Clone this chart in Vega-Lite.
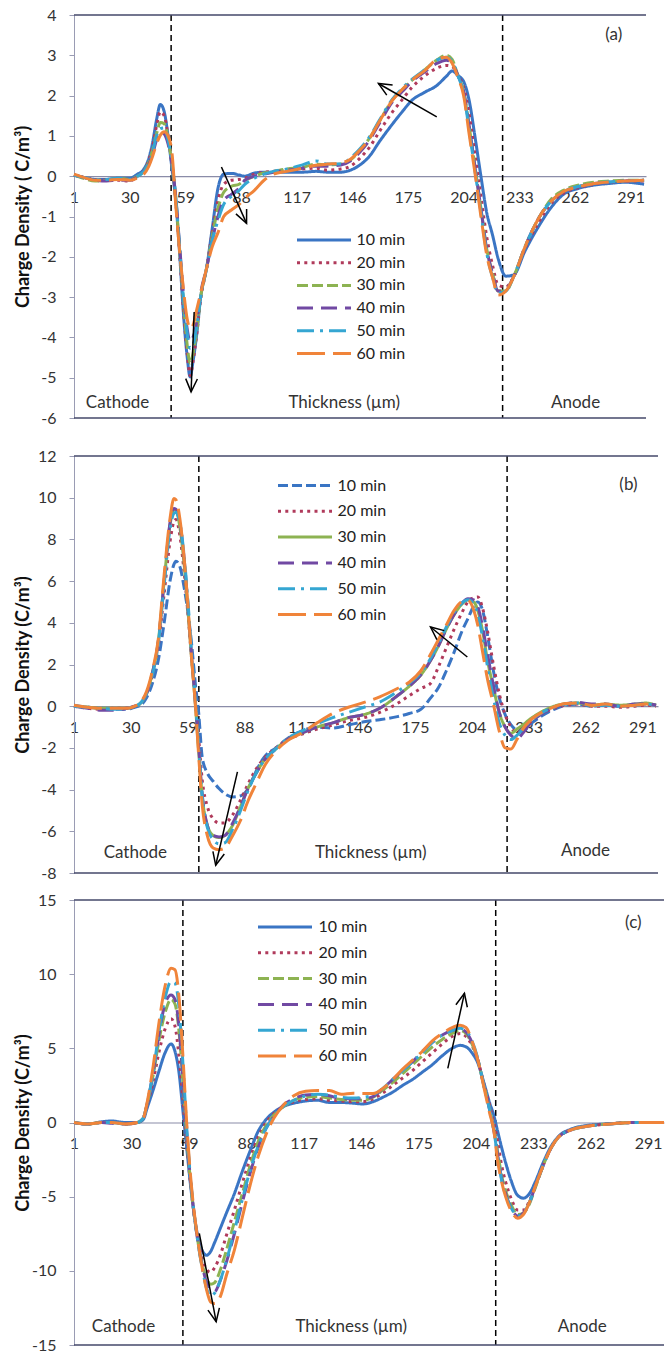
{
"$schema": "https://vega.github.io/schema/vega-lite/v6.json",
"padding": {"left": 14, "top": 7, "right": 2, "bottom": 2},
"config": {"font": "Lato", "view": {"stroke": null}, "axis": {"labelFont": "Lato", "labelFontSize": 16, "labelColor": "#333", "titleFont": "Lato", "grid": false}, "legend": {"labelFont": "Lato"}, "text": {"font": "Lato"}},
"datasets": {
"a": [
{"x":1,"10 min":0.03,"20 min":0.03,"30 min":0.03,"40 min":0.03,"50 min":0.03,"60 min":0.05},
{"x":6,"10 min":-0.03,"20 min":-0.03,"30 min":-0.05,"40 min":-0.03,"50 min":-0.03,"60 min":-0.03},
{"x":12,"10 min":-0.08,"20 min":-0.08,"30 min":-0.12,"40 min":-0.1,"50 min":-0.08,"60 min":-0.1},
{"x":18,"10 min":-0.08,"20 min":-0.1,"30 min":-0.1,"40 min":-0.12,"50 min":-0.08,"60 min":-0.1},
{"x":24,"10 min":-0.05,"20 min":-0.1,"30 min":-0.05,"40 min":-0.1,"50 min":-0.05,"60 min":-0.08},
{"x":30,"10 min":-0.05,"20 min":-0.12,"30 min":-0.08,"40 min":-0.1,"50 min":-0.08,"60 min":-0.1},
{"x":34,"10 min":0.05,"20 min":0.0,"30 min":0.0,"40 min":-0.02,"50 min":0.0,"60 min":-0.05},
{"x":37,"10 min":0.15,"20 min":0.1,"30 min":0.1,"40 min":0.08,"50 min":0.1,"60 min":0.03},
{"x":40,"10 min":0.45,"20 min":0.4,"30 min":0.35,"40 min":0.3,"50 min":0.32,"60 min":0.25},
{"x":42,"10 min":0.85,"20 min":0.75,"30 min":0.65,"40 min":0.55,"50 min":0.6,"60 min":0.5},
{"x":44,"10 min":1.4,"20 min":1.25,"30 min":1.05,"40 min":0.9,"50 min":1.0,"60 min":0.8},
{"x":46,"10 min":1.78,"20 min":1.6,"30 min":1.33,"40 min":1.1,"50 min":1.18,"60 min":1.02},
{"x":48,"10 min":1.6,"20 min":1.5,"30 min":1.3,"40 min":1.05,"50 min":1.2,"60 min":1.1},
{"x":50,"10 min":1.0,"20 min":1.0,"30 min":0.95,"40 min":0.8,"50 min":0.9,"60 min":1.0},
{"x":52,"10 min":0.2,"20 min":0.3,"30 min":0.3,"40 min":0.3,"50 min":0.35,"60 min":0.6},
{"x":54,"10 min":-0.6,"20 min":-0.6,"30 min":-0.55,"40 min":-0.5,"50 min":-0.5,"60 min":-0.7},
{"x":56,"10 min":-1.9,"20 min":-1.9,"30 min":-1.8,"40 min":-1.7,"50 min":-1.75,"60 min":-1.85},
{"x":58,"10 min":-3.4,"20 min":-3.3,"30 min":-3.1,"40 min":-2.9,"50 min":-3.0,"60 min":-2.8},
{"x":60,"10 min":-4.5,"20 min":-4.4,"30 min":-4.2,"40 min":-3.8,"50 min":-3.9,"60 min":-3.55},
{"x":61.5,"10 min":-4.98,"20 min":-4.95,"30 min":-4.65,"40 min":-4.1,"50 min":-4.27,"60 min":-3.78},
{"x":63,"10 min":-4.6,"20 min":-4.6,"30 min":-4.4,"40 min":-4.0,"50 min":-4.2,"60 min":-3.7},
{"x":65,"10 min":-3.9,"20 min":-3.9,"30 min":-3.8,"40 min":-3.6,"50 min":-3.7,"60 min":-3.3},
{"x":67,"10 min":-3.0,"20 min":-3.05,"30 min":-3.0,"40 min":-2.9,"50 min":-3.0,"60 min":-2.9},
{"x":70,"10 min":-2.3,"20 min":-2.3,"30 min":-2.3,"40 min":-2.3,"50 min":-2.3,"60 min":-2.3},
{"x":73,"10 min":-1.3,"20 min":-1.4,"30 min":-1.5,"40 min":-1.6,"50 min":-1.6,"60 min":-1.75},
{"x":76,"10 min":-0.3,"20 min":-0.6,"30 min":-0.8,"40 min":-1.0,"50 min":-1.1,"60 min":-1.4},
{"x":79,"10 min":0.05,"20 min":-0.2,"30 min":-0.4,"40 min":-0.6,"50 min":-0.7,"60 min":-1.0},
{"x":83,"10 min":0.07,"20 min":-0.1,"30 min":-0.25,"40 min":-0.45,"50 min":-0.5,"60 min":-0.84},
{"x":87,"10 min":0.03,"20 min":-0.08,"30 min":-0.2,"40 min":-0.3,"50 min":-0.35,"60 min":-0.7},
{"x":90,"10 min":0.0,"20 min":-0.05,"30 min":-0.1,"40 min":-0.1,"50 min":-0.2,"60 min":-0.55},
{"x":95,"10 min":0.08,"20 min":0.05,"30 min":0.0,"40 min":0.0,"50 min":-0.05,"60 min":-0.35},
{"x":100,"10 min":0.1,"20 min":0.1,"30 min":0.08,"40 min":0.05,"50 min":0.05,"60 min":-0.1},
{"x":105,"10 min":0.1,"20 min":0.12,"30 min":0.12,"40 min":0.1,"50 min":0.12,"60 min":0.05},
{"x":112,"10 min":0.1,"20 min":0.15,"30 min":0.18,"40 min":0.15,"50 min":0.18,"60 min":0.12},
{"x":120,"10 min":0.1,"20 min":0.18,"30 min":0.22,"40 min":0.2,"50 min":0.28,"60 min":0.2},
{"x":127,"10 min":0.12,"20 min":0.2,"30 min":0.3,"40 min":0.25,"50 min":0.38,"60 min":0.27},
{"x":133,"10 min":0.1,"20 min":0.15,"30 min":0.28,"40 min":0.25,"50 min":0.3,"60 min":0.3},
{"x":140,"10 min":0.1,"20 min":0.18,"30 min":0.3,"40 min":0.28,"50 min":0.3,"60 min":0.33},
{"x":145,"10 min":0.15,"20 min":0.25,"30 min":0.4,"40 min":0.38,"50 min":0.45,"60 min":0.42},
{"x":150,"10 min":0.28,"20 min":0.45,"30 min":0.65,"40 min":0.6,"50 min":0.68,"60 min":0.65},
{"x":155,"10 min":0.5,"20 min":0.72,"30 min":0.95,"40 min":0.9,"50 min":0.98,"60 min":0.94},
{"x":160,"10 min":0.85,"20 min":1.1,"30 min":1.35,"40 min":1.3,"50 min":1.38,"60 min":1.35},
{"x":167,"10 min":1.3,"20 min":1.6,"30 min":1.9,"40 min":1.85,"50 min":1.92,"60 min":1.89},
{"x":172,"10 min":1.6,"20 min":1.9,"30 min":2.15,"40 min":2.1,"50 min":2.18,"60 min":2.15},
{"x":177,"10 min":1.88,"20 min":2.2,"30 min":2.38,"40 min":2.35,"50 min":2.4,"60 min":2.38},
{"x":184,"10 min":2.09,"20 min":2.5,"30 min":2.65,"40 min":2.6,"50 min":2.65,"60 min":2.63},
{"x":190,"10 min":2.25,"20 min":2.68,"30 min":2.88,"40 min":2.8,"50 min":2.88,"60 min":2.9},
{"x":195,"10 min":2.48,"20 min":2.75,"30 min":3.0,"40 min":2.88,"50 min":2.95,"60 min":2.95},
{"x":198,"10 min":2.61,"20 min":2.72,"30 min":2.9,"40 min":2.8,"50 min":2.85,"60 min":2.8},
{"x":201,"10 min":2.5,"20 min":2.5,"30 min":2.5,"40 min":2.5,"50 min":2.5,"60 min":2.45},
{"x":204,"10 min":2.35,"20 min":2.2,"30 min":2.1,"40 min":2.1,"50 min":2.05,"60 min":2.0},
{"x":207,"10 min":1.85,"20 min":1.5,"30 min":1.2,"40 min":1.2,"50 min":1.1,"60 min":1.0},
{"x":210,"10 min":0.95,"20 min":0.5,"30 min":0.2,"40 min":0.2,"50 min":0.1,"60 min":0.05},
{"x":213,"10 min":0.0,"20 min":-0.5,"30 min":-0.8,"40 min":-0.8,"50 min":-0.9,"60 min":-1.0},
{"x":216,"10 min":-0.9,"20 min":-1.5,"30 min":-1.8,"40 min":-1.8,"50 min":-1.9,"60 min":-1.95},
{"x":219,"10 min":-1.45,"20 min":-2.2,"30 min":-2.4,"40 min":-2.4,"50 min":-2.5,"60 min":-2.5},
{"x":222,"10 min":-2.05,"20 min":-2.7,"30 min":-2.85,"40 min":-2.85,"50 min":-2.9,"60 min":-2.95},
{"x":226,"10 min":-2.48,"20 min":-2.75,"30 min":-2.85,"40 min":-2.8,"50 min":-2.85,"60 min":-2.85},
{"x":230,"10 min":-2.45,"20 min":-2.5,"30 min":-2.5,"40 min":-2.5,"50 min":-2.5,"60 min":-2.5},
{"x":236,"10 min":-1.85,"20 min":-1.8,"30 min":-1.75,"40 min":-1.75,"50 min":-1.75,"60 min":-1.75},
{"x":243,"10 min":-1.25,"20 min":-1.15,"30 min":-1.05,"40 min":-1.05,"50 min":-1.05,"60 min":-1.05},
{"x":250,"10 min":-0.75,"20 min":-0.65,"30 min":-0.55,"40 min":-0.6,"50 min":-0.6,"60 min":-0.6},
{"x":256,"10 min":-0.45,"20 min":-0.42,"30 min":-0.35,"40 min":-0.4,"50 min":-0.38,"60 min":-0.38},
{"x":264,"10 min":-0.3,"20 min":-0.28,"30 min":-0.22,"40 min":-0.26,"50 min":-0.25,"60 min":-0.26},
{"x":272,"10 min":-0.22,"20 min":-0.2,"30 min":-0.15,"40 min":-0.18,"50 min":-0.18,"60 min":-0.18},
{"x":280,"10 min":-0.18,"20 min":-0.15,"30 min":-0.12,"40 min":-0.15,"50 min":-0.14,"60 min":-0.14},
{"x":288,"10 min":-0.15,"20 min":-0.12,"30 min":-0.1,"40 min":-0.12,"50 min":-0.12,"60 min":-0.12},
{"x":298,"10 min":-0.2,"20 min":-0.12,"30 min":-0.1,"40 min":-0.1,"50 min":-0.1,"60 min":-0.1}
],
"b": [
{"x":1,"10 min":0.05,"20 min":0.0,"30 min":0.0,"40 min":0.0,"50 min":0.0,"60 min":0.05},
{"x":8,"10 min":-0.05,"20 min":-0.1,"30 min":-0.05,"40 min":-0.1,"50 min":-0.05,"60 min":-0.05},
{"x":15,"10 min":-0.1,"20 min":-0.15,"30 min":-0.1,"40 min":-0.2,"50 min":-0.1,"60 min":-0.1},
{"x":22,"10 min":-0.15,"20 min":-0.1,"30 min":-0.1,"40 min":-0.2,"50 min":-0.15,"60 min":-0.1},
{"x":28,"10 min":-0.15,"20 min":-0.1,"30 min":-0.1,"40 min":-0.1,"50 min":-0.1,"60 min":-0.1},
{"x":32,"10 min":-0.05,"20 min":0.0,"30 min":0.0,"40 min":0.0,"50 min":0.0,"60 min":0.0},
{"x":35,"10 min":0.05,"20 min":0.15,"30 min":0.15,"40 min":0.15,"50 min":0.15,"60 min":0.2},
{"x":38,"10 min":0.4,"20 min":0.6,"30 min":0.6,"40 min":0.6,"50 min":0.6,"60 min":0.7},
{"x":41,"10 min":1.1,"20 min":1.5,"30 min":1.6,"40 min":1.6,"50 min":1.5,"60 min":1.7},
{"x":44,"10 min":2.2,"20 min":2.9,"30 min":3.1,"40 min":3.1,"50 min":3.0,"60 min":3.2},
{"x":47,"10 min":4.0,"20 min":5.4,"30 min":6.0,"40 min":6.0,"50 min":5.8,"60 min":6.3},
{"x":50,"10 min":6.0,"20 min":7.9,"30 min":8.7,"40 min":8.8,"50 min":8.5,"60 min":9.0},
{"x":52,"10 min":6.8,"20 min":8.85,"30 min":9.45,"40 min":9.48,"50 min":9.25,"60 min":9.96},
{"x":53,"10 min":6.95,"20 min":8.95,"30 min":9.4,"40 min":9.45,"50 min":9.3,"60 min":9.9},
{"x":55,"10 min":6.7,"20 min":8.2,"30 min":8.6,"40 min":8.8,"50 min":8.8,"60 min":9.0},
{"x":57,"10 min":5.8,"20 min":6.6,"30 min":7.0,"40 min":7.3,"50 min":7.4,"60 min":7.3},
{"x":59,"10 min":4.6,"20 min":4.6,"30 min":4.8,"40 min":5.0,"50 min":5.2,"60 min":5.0},
{"x":61,"10 min":3.0,"20 min":2.3,"30 min":2.3,"40 min":2.4,"50 min":2.6,"60 min":2.3},
{"x":63,"10 min":1.0,"20 min":0.3,"30 min":0.0,"40 min":0.1,"50 min":0.2,"60 min":0.0},
{"x":64.5,"10 min":-0.2,"20 min":-1.4,"30 min":-2.0,"40 min":-1.8,"50 min":-1.8,"60 min":-2.2},
{"x":66.5,"10 min":-2.5,"20 min":-3.6,"30 min":-4.4,"40 min":-4.3,"50 min":-4.4,"60 min":-4.8},
{"x":69,"10 min":-3.2,"20 min":-4.8,"30 min":-5.7,"40 min":-5.7,"50 min":-5.8,"60 min":-6.2},
{"x":72,"10 min":-3.6,"20 min":-5.4,"30 min":-6.2,"40 min":-6.2,"50 min":-6.4,"60 min":-6.8},
{"x":75,"10 min":-3.95,"20 min":-5.6,"30 min":-6.3,"40 min":-6.27,"50 min":-6.6,"60 min":-6.88},
{"x":78,"10 min":-4.2,"20 min":-5.6,"30 min":-6.2,"40 min":-6.2,"50 min":-6.55,"60 min":-6.8},
{"x":82,"10 min":-4.35,"20 min":-5.2,"30 min":-5.7,"40 min":-5.6,"50 min":-5.9,"60 min":-6.2},
{"x":86,"10 min":-4.3,"20 min":-4.5,"30 min":-4.8,"40 min":-4.8,"50 min":-5.0,"60 min":-5.47},
{"x":90,"10 min":-3.95,"20 min":-3.7,"30 min":-3.9,"40 min":-3.9,"50 min":-4.0,"60 min":-4.5},
{"x":94,"10 min":-3.1,"20 min":-3.0,"30 min":-3.2,"40 min":-3.2,"50 min":-3.2,"60 min":-3.7},
{"x":98,"10 min":-2.45,"20 min":-2.5,"30 min":-2.6,"40 min":-2.6,"50 min":-2.6,"60 min":-2.9},
{"x":104,"10 min":-2.0,"20 min":-2.0,"30 min":-2.05,"40 min":-2.05,"50 min":-2.05,"60 min":-2.15},
{"x":110,"10 min":-1.55,"20 min":-1.6,"30 min":-1.6,"40 min":-1.6,"50 min":-1.55,"60 min":-1.65},
{"x":117,"10 min":-1.2,"20 min":-1.35,"30 min":-1.3,"40 min":-1.3,"50 min":-1.2,"60 min":-1.3},
{"x":125,"10 min":-1.0,"20 min":-1.1,"30 min":-1.0,"40 min":-1.0,"50 min":-0.85,"60 min":-0.8},
{"x":133,"10 min":-1.05,"20 min":-0.9,"30 min":-0.8,"40 min":-0.8,"50 min":-0.55,"60 min":-0.35},
{"x":141,"10 min":-0.9,"20 min":-0.7,"30 min":-0.55,"40 min":-0.55,"50 min":-0.3,"60 min":-0.05},
{"x":149,"10 min":-0.75,"20 min":-0.55,"30 min":-0.4,"40 min":-0.4,"50 min":-0.05,"60 min":0.18},
{"x":157,"10 min":-0.65,"20 min":-0.3,"30 min":-0.1,"40 min":-0.1,"50 min":0.2,"60 min":0.45},
{"x":166,"10 min":-0.5,"20 min":0.13,"30 min":0.5,"40 min":0.5,"50 min":0.7,"60 min":0.85},
{"x":172,"10 min":-0.35,"20 min":0.5,"30 min":0.95,"40 min":0.95,"50 min":1.1,"60 min":1.15},
{"x":178,"10 min":-0.15,"20 min":0.85,"30 min":1.5,"40 min":1.5,"50 min":1.6,"60 min":1.7},
{"x":183,"10 min":0.4,"20 min":1.1,"30 min":2.2,"40 min":2.2,"50 min":2.3,"60 min":2.5},
{"x":187,"10 min":0.9,"20 min":1.9,"30 min":2.9,"40 min":2.9,"50 min":3.0,"60 min":3.2},
{"x":191,"10 min":1.7,"20 min":2.8,"30 min":3.7,"40 min":3.7,"50 min":3.8,"60 min":3.9},
{"x":195,"10 min":2.6,"20 min":3.7,"30 min":4.4,"40 min":4.4,"50 min":4.5,"60 min":4.6},
{"x":199,"10 min":3.6,"20 min":4.5,"30 min":4.9,"40 min":4.95,"50 min":4.95,"60 min":5.02},
{"x":202,"10 min":4.2,"20 min":5.0,"30 min":5.1,"40 min":5.15,"50 min":5.1,"60 min":5.08},
{"x":205,"10 min":4.8,"20 min":5.2,"30 min":5.0,"40 min":5.1,"50 min":4.9,"60 min":4.6},
{"x":207,"10 min":5.0,"20 min":5.24,"30 min":4.6,"40 min":4.8,"50 min":4.4,"60 min":3.9},
{"x":209.5,"10 min":4.6,"20 min":4.7,"30 min":3.6,"40 min":3.8,"50 min":3.3,"60 min":2.6},
{"x":212,"10 min":3.4,"20 min":3.6,"30 min":2.2,"40 min":2.5,"50 min":1.9,"60 min":1.3},
{"x":215,"10 min":1.7,"20 min":2.0,"30 min":0.9,"40 min":1.0,"50 min":0.4,"60 min":0.1},
{"x":218,"10 min":0.4,"20 min":0.6,"30 min":-0.3,"40 min":-0.3,"50 min":-0.8,"60 min":-1.2},
{"x":221,"10 min":-0.4,"20 min":-0.4,"30 min":-1.0,"40 min":-1.0,"50 min":-1.4,"60 min":-2.0},
{"x":224,"10 min":-0.9,"20 min":-1.0,"30 min":-1.3,"40 min":-1.4,"50 min":-1.6,"60 min":-2.05},
{"x":227,"10 min":-1.15,"20 min":-1.3,"30 min":-1.1,"40 min":-1.55,"50 min":-1.4,"60 min":-1.6},
{"x":230,"10 min":-1.2,"20 min":-1.1,"30 min":-0.9,"40 min":-1.3,"50 min":-1.1,"60 min":-1.1},
{"x":234,"10 min":-0.85,"20 min":-0.75,"30 min":-0.6,"40 min":-0.8,"50 min":-0.7,"60 min":-0.67},
{"x":240,"10 min":-0.45,"20 min":-0.35,"30 min":-0.25,"40 min":-0.35,"50 min":-0.3,"60 min":-0.28},
{"x":246,"10 min":-0.15,"20 min":-0.1,"30 min":0.0,"40 min":-0.05,"50 min":-0.05,"60 min":-0.03},
{"x":252,"10 min":0.05,"20 min":0.05,"30 min":0.12,"40 min":0.12,"50 min":0.1,"60 min":0.13},
{"x":258,"10 min":0.1,"20 min":0.1,"30 min":0.15,"40 min":0.18,"50 min":0.15,"60 min":0.15},
{"x":265,"10 min":0.0,"20 min":0.0,"30 min":0.05,"40 min":0.1,"50 min":0.05,"60 min":0.05},
{"x":272,"10 min":0.05,"20 min":0.0,"30 min":0.1,"40 min":0.1,"50 min":0.05,"60 min":0.1},
{"x":280,"10 min":0.0,"20 min":-0.05,"30 min":0.05,"40 min":0.0,"50 min":0.0,"60 min":0.0},
{"x":287,"10 min":0.05,"20 min":0.0,"30 min":0.1,"40 min":0.1,"50 min":0.05,"60 min":0.05},
{"x":293,"10 min":0.1,"20 min":0.05,"30 min":0.15,"40 min":0.12,"50 min":0.1,"60 min":0.1},
{"x":298,"10 min":0.05,"20 min":0.0,"30 min":0.05,"40 min":0.05,"50 min":0.05,"60 min":0.05}
],
"c": [
{"x":1,"10 min":0,"20 min":0,"30 min":0,"40 min":0,"50 min":0,"60 min":0},
{"x":8,"10 min":-0.1,"20 min":-0.1,"30 min":-0.1,"40 min":-0.1,"50 min":-0.1,"60 min":-0.1},
{"x":15,"10 min":0.05,"20 min":0,"30 min":0,"40 min":0,"50 min":0,"60 min":0},
{"x":20,"10 min":0.1,"20 min":0,"30 min":0,"40 min":-0.05,"50 min":0,"60 min":0},
{"x":27,"10 min":0,"20 min":-0.1,"30 min":-0.1,"40 min":-0.1,"50 min":-0.1,"60 min":-0.1},
{"x":33,"10 min":0,"20 min":0,"30 min":0,"40 min":0,"50 min":0,"60 min":0},
{"x":36,"10 min":0.2,"20 min":0.3,"30 min":0.3,"40 min":0.3,"50 min":0.3,"60 min":0.3},
{"x":38,"10 min":1.0,"20 min":1.2,"30 min":1.3,"40 min":1.3,"50 min":1.3,"60 min":1.4},
{"x":41,"10 min":2.2,"20 min":2.8,"30 min":3.2,"40 min":3.4,"50 min":3.4,"60 min":3.8},
{"x":44,"10 min":3.5,"20 min":4.8,"30 min":5.6,"40 min":6.0,"50 min":6.2,"60 min":6.8},
{"x":47,"10 min":4.7,"20 min":6.3,"30 min":7.4,"40 min":8.0,"50 min":8.4,"60 min":9.2},
{"x":50,"10 min":5.3,"20 min":7.0,"30 min":8.3,"40 min":8.6,"50 min":9.5,"60 min":10.4},
{"x":52,"10 min":4.8,"20 min":6.5,"30 min":8.0,"40 min":8.3,"50 min":9.4,"60 min":10.3},
{"x":54,"10 min":3.4,"20 min":4.5,"30 min":6.2,"40 min":6.5,"50 min":7.8,"60 min":8.5},
{"x":56,"10 min":0.8,"20 min":1.5,"30 min":2.8,"40 min":3.0,"50 min":4.0,"60 min":4.5},
{"x":58,"10 min":-1.8,"20 min":-1.5,"30 min":-1.0,"40 min":-0.8,"50 min":-0.5,"60 min":-0.2},
{"x":60,"10 min":-4.4,"20 min":-4.3,"30 min":-4.2,"40 min":-4.1,"50 min":-4.0,"60 min":-3.8},
{"x":63,"10 min":-7.3,"20 min":-7.4,"30 min":-7.5,"40 min":-7.5,"50 min":-7.5,"60 min":-7.4},
{"x":66,"10 min":-8.7,"20 min":-9.3,"30 min":-9.7,"40 min":-9.8,"50 min":-10.0,"60 min":-10.0},
{"x":68,"10 min":-8.95,"20 min":-9.9,"30 min":-10.5,"40 min":-10.8,"50 min":-11.2,"60 min":-11.3},
{"x":70,"10 min":-8.7,"20 min":-10.1,"30 min":-10.9,"40 min":-11.3,"50 min":-11.7,"60 min":-12.1},
{"x":72,"10 min":-8.1,"20 min":-9.8,"30 min":-10.8,"40 min":-11.4,"50 min":-11.5,"60 min":-12.2},
{"x":75,"10 min":-7.1,"20 min":-8.9,"30 min":-9.9,"40 min":-10.6,"50 min":-10.6,"60 min":-11.7},
{"x":78,"10 min":-6.1,"20 min":-7.6,"30 min":-8.6,"40 min":-9.4,"50 min":-9.3,"60 min":-10.3},
{"x":82,"10 min":-4.8,"20 min":-5.9,"30 min":-6.7,"40 min":-7.5,"50 min":-7.3,"60 min":-8.6},
{"x":86,"10 min":-3.3,"20 min":-4.1,"30 min":-4.8,"40 min":-5.4,"50 min":-5.2,"60 min":-6.4},
{"x":90,"10 min":-1.9,"20 min":-2.4,"30 min":-2.9,"40 min":-3.4,"50 min":-3.2,"60 min":-4.2},
{"x":94,"10 min":-0.6,"20 min":-1.0,"30 min":-1.3,"40 min":-1.7,"50 min":-1.6,"60 min":-2.3},
{"x":98,"10 min":0.2,"20 min":0.0,"30 min":-0.2,"40 min":-0.4,"50 min":-0.4,"60 min":-0.8},
{"x":102,"10 min":0.7,"20 min":0.6,"30 min":0.5,"40 min":0.4,"50 min":0.4,"60 min":0.3},
{"x":107,"10 min":1.1,"20 min":1.1,"30 min":1.1,"40 min":1.2,"50 min":1.1,"60 min":1.2},
{"x":112,"10 min":1.3,"20 min":1.4,"30 min":1.5,"40 min":1.6,"50 min":1.5,"60 min":1.8},
{"x":118,"10 min":1.45,"20 min":1.55,"30 min":1.7,"40 min":1.85,"50 min":1.8,"60 min":2.1},
{"x":124,"10 min":1.5,"20 min":1.6,"30 min":1.75,"40 min":1.9,"50 min":1.9,"60 min":2.15},
{"x":130,"10 min":1.35,"20 min":1.5,"30 min":1.65,"40 min":1.8,"50 min":1.85,"60 min":2.15},
{"x":136,"10 min":1.35,"20 min":1.45,"30 min":1.55,"40 min":1.6,"50 min":1.7,"60 min":1.9},
{"x":142,"10 min":1.3,"20 min":1.4,"30 min":1.5,"40 min":1.6,"50 min":1.65,"60 min":1.97},
{"x":147,"10 min":1.25,"20 min":1.4,"30 min":1.5,"40 min":1.6,"50 min":1.7,"60 min":1.95},
{"x":152,"10 min":1.4,"20 min":1.6,"30 min":1.7,"40 min":1.75,"50 min":1.85,"60 min":1.95},
{"x":157,"10 min":1.7,"20 min":2.0,"30 min":2.2,"40 min":2.3,"50 min":2.3,"60 min":2.3},
{"x":162,"10 min":2.05,"20 min":2.5,"30 min":2.7,"40 min":2.9,"50 min":2.9,"60 min":2.9},
{"x":167,"10 min":2.5,"20 min":3.0,"30 min":3.3,"40 min":3.5,"50 min":3.5,"60 min":3.6},
{"x":172,"10 min":2.9,"20 min":3.5,"30 min":3.9,"40 min":4.1,"50 min":4.1,"60 min":4.2},
{"x":177,"10 min":3.4,"20 min":4.1,"30 min":4.5,"40 min":4.8,"50 min":4.7,"60 min":4.8},
{"x":182,"10 min":3.9,"20 min":4.7,"30 min":5.1,"40 min":5.4,"50 min":5.4,"60 min":5.5},
{"x":187,"10 min":4.5,"20 min":5.3,"30 min":5.6,"40 min":5.9,"50 min":5.9,"60 min":6.0},
{"x":192,"10 min":5.0,"20 min":5.8,"30 min":6.0,"40 min":6.2,"50 min":6.2,"60 min":6.4},
{"x":196,"10 min":5.2,"20 min":6.0,"30 min":6.2,"40 min":6.3,"50 min":6.35,"60 min":6.55},
{"x":199,"10 min":5.1,"20 min":5.8,"30 min":6.0,"40 min":6.1,"50 min":6.2,"60 min":6.4},
{"x":202,"10 min":4.7,"20 min":5.2,"30 min":5.3,"40 min":5.4,"50 min":5.5,"60 min":5.5},
{"x":205,"10 min":4.0,"20 min":4.2,"30 min":4.2,"40 min":4.2,"50 min":4.3,"60 min":4.2},
{"x":208,"10 min":2.7,"20 min":2.6,"30 min":2.5,"40 min":2.5,"50 min":2.5,"60 min":2.4},
{"x":211,"10 min":1.3,"20 min":1.1,"30 min":0.9,"40 min":0.8,"50 min":0.8,"60 min":0.6},
{"x":213,"10 min":0.5,"20 min":0.0,"30 min":-0.4,"40 min":-0.5,"50 min":-0.5,"60 min":-0.5},
{"x":215,"10 min":-0.6,"20 min":-1.3,"30 min":-2.0,"40 min":-2.2,"50 min":-2.3,"60 min":-2.6},
{"x":217,"10 min":-1.7,"20 min":-2.9,"30 min":-3.6,"40 min":-3.8,"50 min":-3.9,"60 min":-4.0},
{"x":219,"10 min":-2.7,"20 min":-4.0,"30 min":-4.6,"40 min":-4.8,"50 min":-4.9,"60 min":-5.0},
{"x":222,"10 min":-4.0,"20 min":-5.2,"30 min":-5.6,"40 min":-5.8,"50 min":-5.8,"60 min":-6.0},
{"x":225,"10 min":-4.9,"20 min":-5.9,"30 min":-6.2,"40 min":-6.3,"50 min":-6.3,"60 min":-6.45},
{"x":228,"10 min":-5.1,"20 min":-5.9,"30 min":-6.1,"40 min":-6.1,"50 min":-6.1,"60 min":-6.2},
{"x":231,"10 min":-4.8,"20 min":-5.3,"30 min":-5.5,"40 min":-5.4,"50 min":-5.4,"60 min":-5.4},
{"x":234,"10 min":-4.0,"20 min":-4.3,"30 min":-4.4,"40 min":-4.3,"50 min":-4.3,"60 min":-4.3},
{"x":238,"10 min":-2.7,"20 min":-2.9,"30 min":-2.9,"40 min":-2.9,"50 min":-2.9,"60 min":-2.9},
{"x":242,"10 min":-1.6,"20 min":-1.7,"30 min":-1.7,"40 min":-1.7,"50 min":-1.7,"60 min":-1.7},
{"x":246,"10 min":-0.9,"20 min":-0.95,"30 min":-0.95,"40 min":-0.95,"50 min":-0.95,"60 min":-0.95},
{"x":252,"10 min":-0.45,"20 min":-0.5,"30 min":-0.5,"40 min":-0.5,"50 min":-0.5,"60 min":-0.5},
{"x":260,"10 min":-0.2,"20 min":-0.25,"30 min":-0.25,"40 min":-0.25,"50 min":-0.25,"60 min":-0.25},
{"x":270,"10 min":-0.1,"20 min":-0.12,"30 min":-0.1,"40 min":-0.1,"50 min":-0.12,"60 min":-0.12},
{"x":285,"10 min":0,"20 min":0,"30 min":0,"40 min":0,"50 min":0,"60 min":0},
{"x":299,"10 min":0,"20 min":0,"30 min":0,"40 min":0,"50 min":0,"60 min":0}
]
},
"spacing": 38,
"bounds": "flush",
"resolve": {"scale": {"x": "independent", "y": "independent", "color": "independent", "strokeDash": "independent"}, "axis": {"x": "independent", "y": "independent"}, "legend": {"color": "independent", "strokeDash": "independent"}},
"vconcat": [
{
"width": 572, "height": 403,
"layer": [
{"data": {"values": [{}]}, "mark": {"type": "rule", "color": "black", "strokeWidth": 1.5, "strokeDash": [6, 4]}, "encoding": {"x": {"datum": 51.6}}},
{"data": {"values": [{}]}, "mark": {"type": "rule", "color": "black", "strokeWidth": 1.5, "strokeDash": [6, 4]}, "encoding": {"x": {"datum": 224.3}}},
{"data": {"name": "a"},
 "transform": [{"fold": ["10 min", "20 min", "30 min", "40 min", "50 min", "60 min"], "as": ["series", "val"]}],
 "mark": {"type": "line", "strokeWidth": 3, "interpolate": "monotone"},
 "encoding": {
  "x": {"field": "x", "type": "quantitative", "scale": {"domain": [1, 299], "nice": false, "zero": false}, "axis": {"values": [1, 30, 59, 88, 117, 146, 175, 204, 233, 262, 291], "title": null, "ticks": false, "labelPadding": 13, "labelFlush": false, "labelOverlap": false, "domainColor": "#8a8ca8", "domainWidth": 1.2, "offset": -241.8}},
  "y": {"field": "val", "type": "quantitative", "scale": {"domain": [-6, 4], "nice": false, "zero": false}, "axis": {"values": [-6, -5, -4, -3, -2, -1, 0, 1, 2, 3, 4], "labelExpr": "datum.value + ''", "title": "Charge Density ( C/m³)", "titleX": -42, "titleFontSize": 18, "titleFontWeight": "bold", "titleColor": "#111", "tickSize": 5, "labelPadding": 13, "domainColor": "#9a9cb4", "tickColor": "#9a9cb4"}},
  "color": {"field": "series", "type": "nominal", "scale": {"domain": ["10 min", "20 min", "30 min", "40 min", "50 min", "60 min"], "range": ["#3A75C4", "#B03A5B", "#8DB352", "#7149A3", "#35A6D2", "#F0843A"]}, "legend": {"title": null, "orient": "none", "legendX": 239.5, "legendY": 214.5, "symbolType": "M-3,0H3", "symbolSize": 324, "symbolStrokeWidth": 3, "labelOffset": 22, "rowPadding": 3.7, "padding": 0, "labelFontSize": 16, "labelColor": "#222"}},
  "strokeDash": {"field": "series", "type": "nominal", "scale": {"domain": ["10 min", "20 min", "30 min", "40 min", "50 min", "60 min"], "range": [[1, 0], [3, 4.3], [11, 4], [16, 8], [17, 6, 3, 6], [28, 8]]}, "legend": {"title": null, "orient": "none", "legendX": 239.5, "legendY": 214.5, "symbolType": "M-3,0H3", "symbolSize": 324, "symbolStrokeWidth": 3, "labelOffset": 22, "rowPadding": 3.7, "padding": 0, "labelFontSize": 16, "labelColor": "#222"}}
 }
},
{"data": {"values": [{}]}, "mark": {"type": "rule", "color": "#45486a", "strokeWidth": 1.5}, "encoding": {"y": {"datum": 4}}},
{"data": {"values": [{}]}, "mark": {"type": "rule", "color": "#45486a", "strokeWidth": 1.5}, "encoding": {"y": {"datum": -6}}},
{"data": {"values": [{}]}, "mark": {"type": "text", "fontSize": 17, "color": "#333"}, "encoding": {"x": {"datum": 23.7}, "y": {"datum": -5.63}, "text": {"value": "Cathode"}}},
{"data": {"values": [{}]}, "mark": {"type": "text", "fontSize": 17, "color": "#333"}, "encoding": {"x": {"datum": 141.8}, "y": {"datum": -5.63}, "text": {"value": "Thickness (µm)"}}},
{"data": {"values": [{}]}, "mark": {"type": "text", "fontSize": 17, "color": "#333"}, "encoding": {"x": {"datum": 262.3}, "y": {"datum": -5.63}, "text": {"value": "Anode"}}},
{"data": {"values": [{}]}, "mark": {"type": "text", "fontSize": 17, "color": "#333"}, "encoding": {"x": {"datum": 282.2}, "y": {"datum": 3.5}, "text": {"value": "(a)"}}},
{"data": {"values": [{}]}, "mark": {"type": "rule", "color": "black", "strokeWidth": 1.5}, "encoding": {"x": {"datum": 63.6}, "y": {"datum": -3.37}, "x2": {"datum": 62.0}, "y2": {"datum": -5.35}}},
{"data": {"values": [{}]}, "mark": {"type": "point", "shape": "M-0.45,1L0,0L0.45,1", "angle": 182, "filled": false, "color": "black", "strokeWidth": 1.5, "size": 676, "opacity": 1}, "encoding": {"x": {"datum": 62.0}, "y": {"datum": -5.35}}},
{"data": {"values": [{}]}, "mark": {"type": "rule", "color": "black", "strokeWidth": 1.5}, "encoding": {"x": {"datum": 77.8}, "y": {"datum": 0.23}, "x2": {"datum": 90.9}, "y2": {"datum": -1.17}}},
{"data": {"values": [{}]}, "mark": {"type": "point", "shape": "M-0.45,1L0,0L0.45,1", "angle": 156, "filled": false, "color": "black", "strokeWidth": 1.5, "size": 676, "opacity": 1}, "encoding": {"x": {"datum": 90.9}, "y": {"datum": -1.17}}},
{"data": {"values": [{}]}, "mark": {"type": "rule", "color": "black", "strokeWidth": 1.5}, "encoding": {"x": {"datum": 190}, "y": {"datum": 1.47}, "x2": {"datum": 159.6}, "y2": {"datum": 2.3}}},
{"data": {"values": [{}]}, "mark": {"type": "point", "shape": "M-0.45,1L0,0L0.45,1", "angle": 300, "filled": false, "color": "black", "strokeWidth": 1.5, "size": 676, "opacity": 1}, "encoding": {"x": {"datum": 159.6}, "y": {"datum": 2.3}}}
]
},
{
"spacing": 27,
"bounds": "flush",
"resolve": {"scale": {"x": "independent", "y": "independent", "color": "independent", "strokeDash": "independent"}, "axis": {"x": "independent", "y": "independent"}, "legend": {"color": "independent", "strokeDash": "independent"}},
"vconcat": [
{
"width": 584, "height": 417,
"layer": [
{"data": {"values": [{}]}, "mark": {"type": "rule", "color": "black", "strokeWidth": 1.5, "strokeDash": [6, 4]}, "encoding": {"x": {"datum": 64.7}}},
{"data": {"values": [{}]}, "mark": {"type": "rule", "color": "black", "strokeWidth": 1.5, "strokeDash": [6, 4]}, "encoding": {"x": {"datum": 222}}},
{"data": {"name": "b"},
 "transform": [{"fold": ["10 min", "20 min", "30 min", "40 min", "50 min", "60 min"], "as": ["series", "val"]}],
 "mark": {"type": "line", "strokeWidth": 3, "interpolate": "monotone"},
 "encoding": {
  "x": {"field": "x", "type": "quantitative", "scale": {"domain": [1, 299], "nice": false, "zero": false}, "axis": {"values": [1, 30, 59, 88, 117, 146, 175, 204, 233, 262, 291], "title": null, "ticks": false, "labelPadding": 13, "labelFlush": false, "labelOverlap": false, "domainColor": "#8a8ca8", "domainWidth": 1.2, "offset": -166.8}},
  "y": {"field": "val", "type": "quantitative", "scale": {"domain": [-8, 12], "nice": false, "zero": false}, "axis": {"values": [-8, -6, -4, -2, 0, 2, 4, 6, 8, 10, 12], "labelExpr": "datum.value + ''", "title": "Charge Density (C/m³)", "titleX": -42, "titleFontSize": 18, "titleFontWeight": "bold", "titleColor": "#111", "tickSize": 5, "labelPadding": 13, "domainColor": "#9a9cb4", "tickColor": "#9a9cb4"}},
  "color": {"field": "series", "type": "nominal", "scale": {"domain": ["10 min", "20 min", "30 min", "40 min", "50 min", "60 min"], "range": ["#3A75C4", "#B03A5B", "#8DB352", "#7149A3", "#35A6D2", "#F0843A"]}, "legend": {"title": null, "orient": "none", "legendX": 220.5, "legendY": 19, "symbolType": "M-3,0H3", "symbolSize": 324, "symbolStrokeWidth": 3, "labelOffset": 22, "rowPadding": 6.8, "padding": 0, "labelFontSize": 16, "labelColor": "#222"}},
  "strokeDash": {"field": "series", "type": "nominal", "scale": {"domain": ["10 min", "20 min", "30 min", "40 min", "50 min", "60 min"], "range": [[10, 4], [3, 4.3], [1, 0], [16, 8], [17, 6, 3, 6], [28, 8]]}, "legend": {"title": null, "orient": "none", "legendX": 220.5, "legendY": 19, "symbolType": "M-3,0H3", "symbolSize": 324, "symbolStrokeWidth": 3, "labelOffset": 22, "rowPadding": 6.8, "padding": 0, "labelFontSize": 16, "labelColor": "#222"}}
 }
},
{"data": {"values": [{}]}, "mark": {"type": "rule", "color": "#45486a", "strokeWidth": 1.5}, "encoding": {"y": {"datum": 12}}},
{"data": {"values": [{}]}, "mark": {"type": "rule", "color": "#45486a", "strokeWidth": 1.5}, "encoding": {"y": {"datum": -8}}},
{"data": {"values": [{}]}, "mark": {"type": "text", "fontSize": 17, "color": "#333"}, "encoding": {"x": {"datum": 32.3}, "y": {"datum": -7.05}, "text": {"value": "Cathode"}}},
{"data": {"values": [{}]}, "mark": {"type": "text", "fontSize": 17, "color": "#333"}, "encoding": {"x": {"datum": 152.4}, "y": {"datum": -7.05}, "text": {"value": "Thickness (µm)"}}},
{"data": {"values": [{}]}, "mark": {"type": "text", "fontSize": 17, "color": "#333"}, "encoding": {"x": {"datum": 262}, "y": {"datum": -6.95}, "text": {"value": "Anode"}}},
{"data": {"values": [{}]}, "mark": {"type": "text", "fontSize": 17, "color": "#333"}, "encoding": {"x": {"datum": 283.9}, "y": {"datum": 10.6}, "text": {"value": "(b)"}}},
{"data": {"values": [{}]}, "mark": {"type": "rule", "color": "black", "strokeWidth": 1.5}, "encoding": {"x": {"datum": 84.4}, "y": {"datum": -3.15}, "x2": {"datum": 73.3}, "y2": {"datum": -7.63}}},
{"data": {"values": [{}]}, "mark": {"type": "point", "shape": "M-0.45,1L0,0L0.45,1", "angle": 193, "filled": false, "color": "black", "strokeWidth": 1.5, "size": 676, "opacity": 1}, "encoding": {"x": {"datum": 73.3}, "y": {"datum": -7.63}}},
{"data": {"values": [{}]}, "mark": {"type": "rule", "color": "black", "strokeWidth": 1.5}, "encoding": {"x": {"datum": 201.7}, "y": {"datum": 2.36}, "x2": {"datum": 182.9}, "y2": {"datum": 3.8}}},
{"data": {"values": [{}]}, "mark": {"type": "point", "shape": "M-0.45,1L0,0L0.45,1", "angle": 309, "filled": false, "color": "black", "strokeWidth": 1.5, "size": 676, "opacity": 1}, "encoding": {"x": {"datum": 182.9}, "y": {"datum": 3.8}}}
]
},
{
"width": 590, "height": 445,
"layer": [
{"data": {"values": [{}]}, "mark": {"type": "rule", "color": "black", "strokeWidth": 1.5, "strokeDash": [6, 4]}, "encoding": {"x": {"datum": 56}}},
{"data": {"values": [{}]}, "mark": {"type": "rule", "color": "black", "strokeWidth": 1.5, "strokeDash": [6, 4]}, "encoding": {"x": {"datum": 214}}},
{"data": {"name": "c"},
 "transform": [{"fold": ["10 min", "20 min", "30 min", "40 min", "50 min", "60 min"], "as": ["series", "val"]}],
 "mark": {"type": "line", "strokeWidth": 3, "interpolate": "monotone"},
 "encoding": {
  "x": {"field": "x", "type": "quantitative", "scale": {"domain": [1, 299], "nice": false, "zero": false}, "axis": {"values": [1, 30, 59, 88, 117, 146, 175, 204, 233, 262, 291], "title": null, "ticks": false, "labelPadding": 13, "labelFlush": false, "labelOverlap": false, "domainColor": "#8a8ca8", "domainWidth": 1.2, "offset": -222.5}},
  "y": {"field": "val", "type": "quantitative", "scale": {"domain": [-15, 15], "nice": false, "zero": false}, "axis": {"values": [-15, -10, -5, 0, 5, 10, 15], "labelExpr": "datum.value + ''", "title": "Charge Density (C/m³)", "titleX": -42, "titleFontSize": 18, "titleFontWeight": "bold", "titleColor": "#111", "tickSize": 5, "labelPadding": 13, "domainColor": "#9a9cb4", "tickColor": "#9a9cb4"}},
  "color": {"field": "series", "type": "nominal", "scale": {"domain": ["10 min", "20 min", "30 min", "40 min", "50 min", "60 min"], "range": ["#3A75C4", "#B03A5B", "#8DB352", "#7149A3", "#35A6D2", "#F0843A"]}, "legend": {"title": null, "orient": "none", "legendX": 200.5, "legendY": 16.5, "symbolType": "M-3,0H3", "symbolSize": 324, "symbolStrokeWidth": 3, "labelOffset": 23, "rowPadding": 6.8, "padding": 0, "labelFontSize": 16, "labelColor": "#222"}},
  "strokeDash": {"field": "series", "type": "nominal", "scale": {"domain": ["10 min", "20 min", "30 min", "40 min", "50 min", "60 min"], "range": [[1, 0], [3, 4.3], [11, 4], [16, 8], [17, 6, 3, 6], [28, 8]]}, "legend": {"title": null, "orient": "none", "legendX": 200.5, "legendY": 16.5, "symbolType": "M-3,0H3", "symbolSize": 324, "symbolStrokeWidth": 3, "labelOffset": 23, "rowPadding": 6.8, "padding": 0, "labelFontSize": 16, "labelColor": "#222"}}
 }
},
{"data": {"values": [{}]}, "mark": {"type": "rule", "color": "#45486a", "strokeWidth": 1.5}, "encoding": {"y": {"datum": 15}}},
{"data": {"values": [{}]}, "mark": {"type": "rule", "color": "#45486a", "strokeWidth": 1.5}, "encoding": {"y": {"datum": -15}}},
{"data": {"values": [{}]}, "mark": {"type": "text", "fontSize": 17, "color": "#333"}, "encoding": {"x": {"datum": 26}, "y": {"datum": -13.77}, "text": {"value": "Cathode"}}},
{"data": {"values": [{}]}, "mark": {"type": "text", "fontSize": 17, "color": "#333"}, "encoding": {"x": {"datum": 141}, "y": {"datum": -13.77}, "text": {"value": "Thickness (µm)"}}},
{"data": {"values": [{}]}, "mark": {"type": "text", "fontSize": 17, "color": "#333"}, "encoding": {"x": {"datum": 257.7}, "y": {"datum": -13.77}, "text": {"value": "Anode"}}},
{"data": {"values": [{}]}, "mark": {"type": "text", "fontSize": 17, "color": "#333"}, "encoding": {"x": {"datum": 283.5}, "y": {"datum": 13.45}, "text": {"value": "(c)"}}},
{"data": {"values": [{}]}, "mark": {"type": "rule", "color": "black", "strokeWidth": 1.5}, "encoding": {"x": {"datum": 64.3}, "y": {"datum": -7.47}, "x2": {"datum": 72.8}, "y2": {"datum": -13.43}}},
{"data": {"values": [{}]}, "mark": {"type": "point", "shape": "M-0.45,1L0,0L0.45,1", "angle": 169, "filled": false, "color": "black", "strokeWidth": 1.5, "size": 676, "opacity": 1}, "encoding": {"x": {"datum": 72.8}, "y": {"datum": -13.43}}},
{"data": {"values": [{}]}, "mark": {"type": "rule", "color": "black", "strokeWidth": 1.5}, "encoding": {"x": {"datum": 189.8}, "y": {"datum": 3.65}, "x2": {"datum": 198.2}, "y2": {"datum": 8.71}}},
{"data": {"values": [{}]}, "mark": {"type": "point", "shape": "M-0.45,1L0,0L0.45,1", "angle": 12.5, "filled": false, "color": "black", "strokeWidth": 1.5, "size": 676, "opacity": 1}, "encoding": {"x": {"datum": 198.2}, "y": {"datum": 8.71}}}
]
}
]
}
]
}
